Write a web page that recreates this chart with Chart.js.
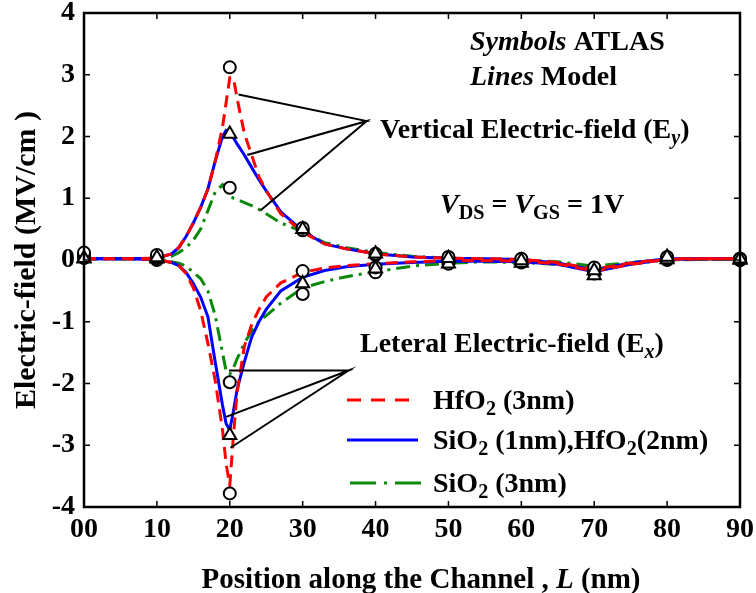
<!DOCTYPE html>
<html><head><meta charset="utf-8">
<script src="https://cdn.jsdelivr.net/npm/chart.js@4.4.1/dist/chart.umd.min.js"></script>
<style>html,body{margin:0;padding:0;background:#fff}</style>
</head><body>
<canvas id="c" width="756" height="593" style="display:block;width:756px;height:593px"></canvas>
<script>
// ---------- data ----------
const xTicks = [0, 10, 20, 30, 40, 50, 60, 70, 80, 90];
const xTickLabels = ['00', '10', '20', '30', '40', '50', '60', '70', '80', '90'];
const yTicks = [-4, -3, -2, -1, 0, 1, 2, 3, 4];

// model curves (lines)
const xModel = [0, 5, 10, 12, 13, 14, 15, 16, 17, 18, 19, 19.5, 20, 20.5, 21, 22, 23, 24, 25, 27, 30, 33, 36, 40, 45, 50, 55, 60, 65, 70, 75, 80, 85, 90];
const hfEy    = [0.02,0.02,0.03,0.10,0.20,0.38,0.60,0.85,1.15,1.60,2.15,2.55,2.95,2.95,2.62,2.05,1.70,1.35,1.12,0.75,0.45,0.26,0.18,0.10,0.05,0.03,0.02,0.01,-0.04,-0.15,-0.05,0.02,0.02,0.02];
const stackEy = [0.02,0.02,0.03,0.10,0.20,0.38,0.60,0.85,1.15,1.60,2.00,2.10,2.08,1.98,1.88,1.70,1.50,1.30,1.12,0.78,0.47,0.26,0.18,0.10,0.05,0.03,0.02,0.01,-0.05,-0.16,-0.05,0.02,0.02,0.02];
const sioEy   = [0.02,0.02,0.03,0.06,0.12,0.20,0.32,0.50,0.80,1.10,1.22,1.12,1.04,1.00,0.98,0.93,0.88,0.82,0.75,0.60,0.46,0.28,0.20,0.12,0.06,0.03,0.01,0.00,-0.03,-0.10,-0.04,0.01,0.01,0.01];
const hfEx    = [0.02,0.02,0.01,-0.04,-0.09,-0.22,-0.45,-0.82,-1.35,-1.95,-2.75,-3.30,-3.65,-2.85,-2.15,-1.40,-1.05,-0.80,-0.60,-0.37,-0.20,-0.13,-0.09,-0.06,-0.03,-0.01,-0.01,-0.02,-0.06,-0.18,-0.07,0.01,0.02,0.02];
const stackEx = [0.02,0.02,0.01,-0.04,-0.09,-0.20,-0.38,-0.60,-0.92,-1.65,-2.35,-2.65,-2.75,-2.45,-2.10,-1.65,-1.25,-1.00,-0.80,-0.50,-0.28,-0.17,-0.11,-0.07,-0.04,-0.02,-0.02,-0.03,-0.07,-0.19,-0.07,0.01,0.02,0.02];
const sioEx   = [0.02,0.02,0.01,-0.03,-0.05,-0.10,-0.20,-0.30,-0.50,-0.90,-1.50,-1.80,-1.85,-1.75,-1.60,-1.35,-1.15,-1.00,-0.90,-0.70,-0.45,-0.35,-0.27,-0.19,-0.10,-0.05,-0.03,-0.04,-0.07,-0.15,-0.06,0.00,0.01,0.01];

// ATLAS simulation (symbols)
const xSim = [0, 10, 20, 30, 40, 50, 60, 70, 80, 90];
const simCircleHfEy   = [0.12, 0.08, 3.12, 0.52, 0.10, 0.05, 0.02, -0.12, 0.05, 0.02];
const simCircleSioEy  = [0.08, 0.05, 1.17, 0.48, 0.08, 0.02, 0.00, -0.15, 0.03, 0.02];
const simTriStackEy   = [0.03, 0.04, 2.04, 0.50, 0.10, 0.03, -0.01, -0.17, 0.05, 0.02];
const simCircleHfEx   = [0.05, 0.03, -3.78, -0.18, -0.12, -0.02, -0.03, -0.20, 0.02, 0.00];
const simCircleSioEx  = [0.03, 0.00, -1.98, -0.55, -0.20, -0.06, -0.04, -0.22, 0.00, 0.00];
const simTriStackEx   = [0.02, 0.02, -2.84, -0.38, -0.14, -0.06, -0.05, -0.25, 0.01, 0.00];

// annotation pointer lines (data units)
const pointerEyX = [21.2, 38.8, 22.4, 38.8, 24.2];
const pointerEyY = [2.68, 2.25, 1.70, 2.25, 0.80];
const pointerExX = [19.9, 36.3, 19.5, 36.3, 20.1];
const pointerExY = [-1.79, -1.79, -2.54, -1.79, -3.04];

// ---------- helpers ----------
const FAM = '"Liberation Serif","Times New Roman",serif';
const pts = (xs, ys) => xs.map((x, i) => ({x, y: ys[i]}));
const RED = '#ff0000', BLUE = '#0000ff', GREEN = '#0a8a0a';

function lineDs(data, color, dash) {
  return {type: 'line', data, borderColor: color, borderWidth: 3, borderDash: dash,
          pointRadius: 0, fill: false, tension: 0};
}
function markDs(data, style, r) {
  return {type: 'scatter', data, pointStyle: style, pointRadius: r, pointBorderWidth: 2,
          pointBorderColor: '#000', pointBackgroundColor: '#fff', showLine: false, clip: false};
}

function rich(ctx, x, y, parts, size) {
  let cx = x;
  for (const p of parts) {
    const s = p.sub ? size * 0.72 : size;
    ctx.font = (p.it ? 'italic ' : '') + 'bold ' + s + 'px ' + FAM;
    ctx.fillText(p.t, cx, y + (p.sub ? size * 0.22 : 0));
    cx += ctx.measureText(p.t).width;
  }
  return cx - x;
}

const decor = {
  id: 'decor',
  afterDatasetsDraw(chart) {
    const {ctx, chartArea: a, scales: {x, y}} = chart;
    ctx.save();
    // inward ticks
    ctx.strokeStyle = '#000';
    ctx.lineWidth = 1.5;
    ctx.beginPath();
    xTicks.forEach(v => {
      const px = x.getPixelForValue(v);
      ctx.moveTo(px, a.bottom); ctx.lineTo(px, a.bottom - 6);
      ctx.moveTo(px, a.top); ctx.lineTo(px, a.top + 6);
    });
    yTicks.forEach(v => {
      const py = y.getPixelForValue(v);
      ctx.moveTo(a.left, py); ctx.lineTo(a.left + 6, py);
      ctx.moveTo(a.right, py); ctx.lineTo(a.right - 6, py);
    });
    ctx.stroke();
    // frame
    ctx.lineWidth = 2.5;
    ctx.strokeRect(a.left, a.top, a.right - a.left, a.bottom - a.top);
    ctx.restore();
  },
  afterDraw(chart) {
    const {ctx, chartArea: a} = chart;
    ctx.save();
    ctx.fillStyle = '#000';
    ctx.textAlign = 'left';
    ctx.textBaseline = 'alphabetic';
    const S = 28;
    rich(ctx, 470, 50, [{t: 'Symbols', it: 1}, {t: ' ATLAS'}], S);
    rich(ctx, 470, 85, [{t: 'Lines', it: 1}, {t: ' Model'}], S);
    rich(ctx, 380, 138, [{t: 'Vertical Electric-field (E'}, {t: 'y', it: 1, sub: 1}, {t: ')'}], S);
    rich(ctx, 440, 213, [{t: 'V', it: 1}, {t: 'DS', sub: 1}, {t: ' = '}, {t: 'V', it: 1}, {t: 'GS', sub: 1}, {t: ' = 1V'}], S);
    rich(ctx, 360, 352, [{t: 'Leteral Electric-field (E'}, {t: 'x', it: 1, sub: 1}, {t: ')'}], S);
    // legend
    const leg = [
      {c: RED, d: [14, 10], y: 400, x0: 347, x1: 412, parts: [{t: 'HfO'}, {t: '2', sub: 1}, {t: ' (3nm)'}]},
      {c: BLUE, d: [], y: 440, x0: 347, x1: 418, parts: [{t: 'SiO'}, {t: '2', sub: 1}, {t: ' (1nm),HfO'}, {t: '2', sub: 1}, {t: '(2nm)'}]},
      {c: GREEN, d: [26, 8, 3, 8], y: 483, x0: 350, x1: 423, parts: [{t: 'SiO'}, {t: '2', sub: 1}, {t: ' (3nm)'}]}
    ];
    leg.forEach(l => {
      ctx.save();
      ctx.strokeStyle = l.c; ctx.lineWidth = 3; ctx.setLineDash(l.d);
      ctx.beginPath(); ctx.moveTo(l.x0, l.y); ctx.lineTo(l.x1, l.y); ctx.stroke();
      ctx.restore();
      rich(ctx, 433, l.y + 9, l.parts, S);
    });
    // x-axis title with italic L
    const parts = [{t: 'Position along the Channel , '}, {t: 'L', it: 1}, {t: ' (nm)'}];
    let w = 0;
    parts.forEach(p => { ctx.font = (p.it ? 'italic ' : '') + 'bold 29px ' + FAM; w += ctx.measureText(p.t).width; });
    const cx = (a.left + a.right) / 2 + 9;
    rich(ctx, cx - w / 2, 588, parts, 29);
    ctx.restore();
  }
};

const tickFont = {family: FAM, size: 28, weight: 'bold'};

new Chart(document.getElementById('c'), {
  data: {
    datasets: [
      markDs(pts(xSim, simTriStackEy), 'triangle', 7.5),
      markDs(pts(xSim, simTriStackEx), 'triangle', 7.5),
      markDs(pts(xSim, simCircleHfEy), 'circle', 6),
      markDs(pts(xSim, simCircleSioEy), 'circle', 6),
      markDs(pts(xSim, simCircleHfEx), 'circle', 6),
      markDs(pts(xSim, simCircleSioEx), 'circle', 6),
      lineDs(pts(pointerEyX, pointerEyY), '#000', []),
      lineDs(pts(pointerExX, pointerExY), '#000', []),
      lineDs(pts(xModel, hfEy), RED, [12, 7]),
      lineDs(pts(xModel, hfEx), RED, [12, 7]),
      lineDs(pts(xModel, stackEy), BLUE, []),
      lineDs(pts(xModel, stackEx), BLUE, []),
      lineDs(pts(xModel, sioEy), GREEN, [14, 6, 3, 6]),
      lineDs(pts(xModel, sioEx), GREEN, [14, 6, 3, 6])
    ].map(d => { if (d.type === 'line') { d.borderWidth = d.borderColor === '#000' ? 2 : 3; } return d; })
  },
  options: {
    responsive: false, animation: false, devicePixelRatio: 1,
    layout: {padding: {left: 0, right: 16, top: 13, bottom: 0}},
    plugins: {legend: {display: false}, tooltip: {enabled: false}},
    scales: {
      x: {
        type: 'linear', min: 0, max: 90,
        afterBuildTicks: s => { s.ticks = xTicks.map(v => ({value: v})); },
        ticks: {callback: v => xTickLabels[xTicks.indexOf(v)], font: tickFont, color: '#000',
                padding: 6, maxRotation: 0, autoSkip: false},
        grid: {display: false, drawTicks: false}, border: {display: false},
        afterFit: s => { s.height = 86; s.paddingLeft = 0; s.paddingRight = 0; }
      },
      y: {
        type: 'linear', min: -4, max: 4,
        afterBuildTicks: s => { s.ticks = yTicks.map(v => ({value: v})); },
        ticks: {callback: v => String(v), font: tickFont, color: '#000', padding: 9},
        grid: {display: false, drawTicks: false}, border: {display: false},
        title: {display: true, text: 'Electric-field (MV/cm )', color: '#000',
                font: {family: FAM, size: 30, weight: 'bold'}, padding: {top: 9, bottom: 0}},
        afterFit: s => { s.width = 84; s.paddingTop = 0; s.paddingBottom = 0; }
      }
    }
  },
  plugins: [decor]
});
</script>
</body></html>
